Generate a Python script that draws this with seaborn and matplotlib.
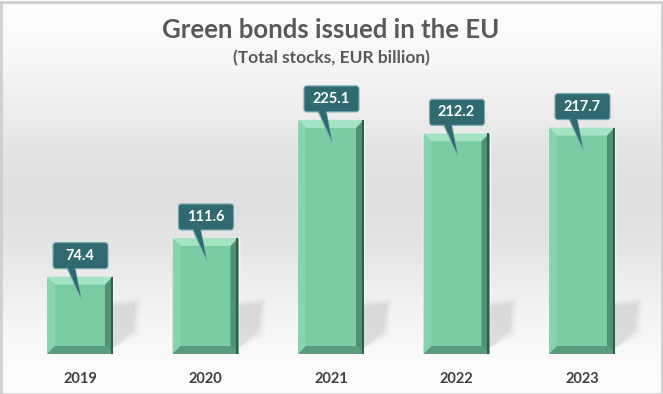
import numpy as np
import pandas as pd
import matplotlib
matplotlib.use("Agg")
import matplotlib.pyplot as plt
import seaborn as sns
from matplotlib.patches import Polygon, FancyBboxPatch, Rectangle
from matplotlib.transforms import IdentityTransform

# ---- data ----
years = ["2019", "2020", "2021", "2022", "2023"]
values = [74.4, 111.6, 225.1, 212.2, 217.7]
title = "Green bonds issued in the EU"
subtitle = "(Total stocks, EUR billion)"

sns.set_theme(style="white")
plt.rcParams['font.family'] = ['Lato', 'DejaVu Sans']

W, H = 663, 394
fig = plt.figure(figsize=(W / 100, H / 100), dpi=100)

# background gradient
bg = fig.add_axes([0, 0, 1, 1], zorder=0)
t = np.linspace(0, 1, 400)[:, None]
g = 1 - 0.12 * np.exp(-((t - 0.5) / 0.3) ** 2)
img = np.dstack([g, g, g])
bg.imshow(img, aspect='auto', extent=[0, 1, 0, 1], interpolation='bilinear')
bg.set_xlim(0, 1); bg.set_ylim(0, 1)
bg.axis('off')

ax = fig.add_axes([17.25 / W, 40 / H, 627.5 / W, 260 / H], zorder=1)
ax.patch.set_alpha(0)
df = pd.DataFrame({"year": years, "value": values})
sns.barplot(data=df, x="year", y="value", color="#7acc a3".replace(" ", ""), saturation=1,
            width=0.526, ax=ax, zorder=3)
ax.set_xlim(-0.5, 4.5)
ax.set_ylim(0, 250)
ax.set_xlabel("")
ax.set_ylabel("")
ax.set_yticks([])
for s in ax.spines.values():
    s.set_visible(False)
ax.tick_params(axis='x', length=0, pad=13)
for lab in ax.get_xticklabels():
    lab.set_fontweight('bold')
    lab.set_fontsize(10.5)
    lab.set_color('#3f3f3f')

idt = IdentityTransform()

def add(p):
    p.set_transform(idt)
    fig.add_artist(p)

b = 8  # bevel width in px
for patch, v in zip(ax.patches, values):
    x0, y0 = patch.get_x(), patch.get_y()
    x1, y1 = x0 + patch.get_width(), y0 + patch.get_height()
    (X0, Y0) = ax.transData.transform((x0, y0))
    (X1, Y1) = ax.transData.transform((x1, y1))
    cx = (X0 + X1) / 2
    # soft shadow
    for k, a in enumerate([0.03, 0.04, 0.05, 0.06]):
        s = 6 - 2 * k
        add(Polygon([(X1, Y0 + 6), (X1, Y0 + 48 + s), (X1 + 22 + s, Y0 + 50 + s),
                     (X1 + 20 + s, Y0 + 24 - s)], closed=True,
                    facecolor='#606060', edgecolor='none', alpha=a, zorder=2))
    # bevel facets
    add(Polygon([(X0, Y1), (X1, Y1), (X1 - b, Y1 - b), (X0 + b, Y1 - b)],
                facecolor='#a6e3c4', edgecolor='none', zorder=4))
    add(Polygon([(X0, Y0), (X0, Y1), (X0 + b, Y1 - b), (X0 + b, Y0 + b)],
                facecolor='#88d4ae', edgecolor='none', zorder=4))
    add(Polygon([(X1, Y0), (X1, Y1), (X1 - b, Y1 - b), (X1 - b, Y0 + b)],
                facecolor='#4f9273', edgecolor='none', zorder=4))
    add(Polygon([(X0, Y0), (X1, Y0), (X1 - b, Y0 + b), (X0 + b, Y0 + b)],
                facecolor='#5a9b7b', edgecolor='none', zorder=4))
    add(Polygon([(X1 - 1.5, Y0), (X1 - 1.5, Y1)], closed=False, fill=False,
                edgecolor='#2f5e49', lw=1.5, zorder=4))
    # callout
    bx0, bx1 = cx - 27, cx + 28
    by0, by1 = Y1 + 8, Y1 + 34
    tip = (cx + 1, Y1 - 22)
    fill = '#2e6a6f'
    edge = '#7aa8ab'
    add(Polygon([(cx - 13, by0 + 1), (cx - 5, by0 + 1), tip], facecolor=fill,
                edgecolor=edge, lw=0.8, zorder=5, joinstyle='round'))
    add(FancyBboxPatch((bx0 + 3, by0 + 3), (bx1 - bx0) - 6, (by1 - by0) - 6,
                       boxstyle="round,pad=3", facecolor=fill, edgecolor=edge,
                       lw=0.8, zorder=6))
    add(Polygon([(cx - 12.5, by0 + 2), (cx - 5.5, by0 + 2), (tip[0] - 0.3, tip[1] + 2)],
                facecolor=fill, edgecolor='none', zorder=7))
    fig.text(cx / W, (by0 + by1) / 2 / H, f"{v:.1f}", ha='center', va='center',
             color='white', fontsize=10.5, fontweight='bold', zorder=8)

fig.text(331 / W, 1 - 30 / H, title, ha='center', va='center', fontsize=18.5,
         fontweight='bold', color='#595959')
fig.text(331 / W, 1 - 58 / H, subtitle, ha='center', va='center', fontsize=12.5,
         fontweight='bold', color='#595959')

fig.add_artist(Rectangle((0.5, 0.5), W - 2, H - 2, transform=idt, fill=False,
                         edgecolor='#cfcfcf', lw=2, zorder=20))

fig.savefig("out.png", dpi=100)
